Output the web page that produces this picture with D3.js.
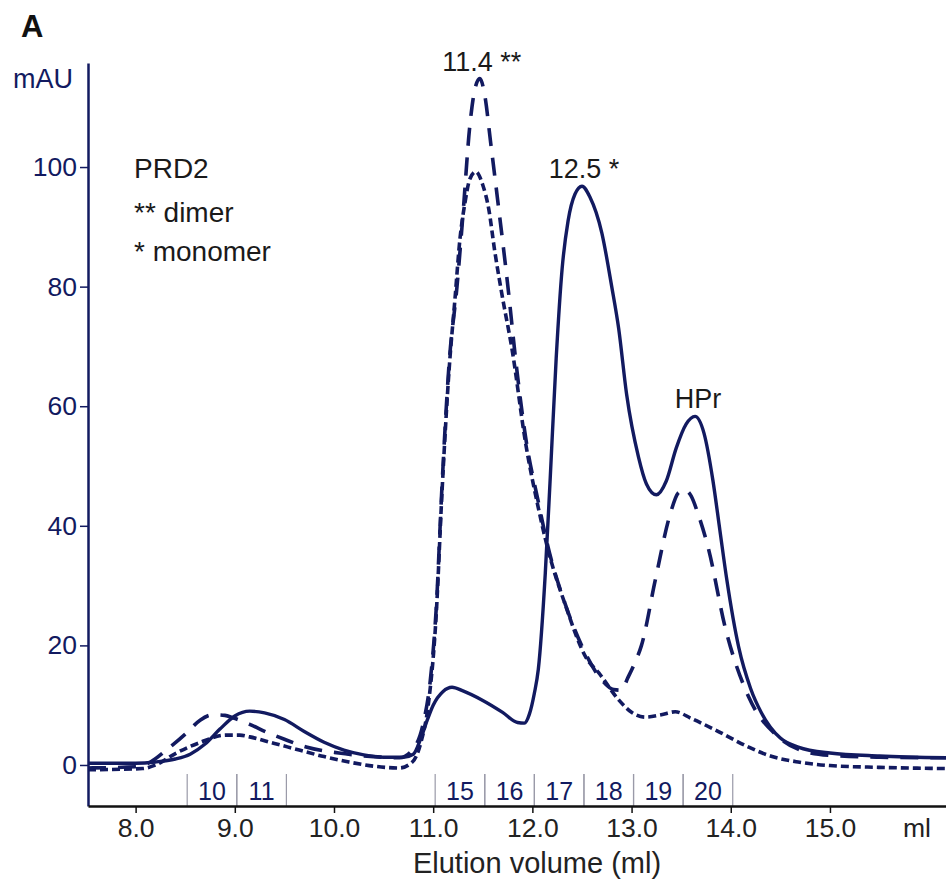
<!DOCTYPE html>
<html>
<head>
<meta charset="utf-8">
<script src="https://cdn.jsdelivr.net/npm/d3@7"></script>
<style>
  body { margin: 0; background: #fff; }
  svg { font-family: "Liberation Sans", Arial, sans-serif; }
</style>
</head>
<body>
<svg id="chart"></svg>
<script>
// elution volume (ml) and absorbance (mAU)
const solidVol = [7.52, 8.0, 8.2, 8.4, 8.55, 8.7, 8.85, 9.0, 9.15, 9.3, 9.5, 9.7, 9.9, 10.1, 10.3, 10.5, 10.7, 10.8, 10.87, 10.94, 11.0, 11.1, 11.19, 11.3, 11.5, 11.7, 11.85, 11.92, 11.97, 12.02, 12.06, 12.13, 12.18, 12.24, 12.3, 12.36, 12.43, 12.5, 12.58, 12.7, 12.8, 12.87, 12.95, 13.07, 13.15, 13.25, 13.35, 13.45, 13.55, 13.64, 13.73, 13.82, 13.89, 13.96, 14.08, 14.2, 14.31, 14.5, 14.68, 15.0, 15.5, 16.17]
const solidMau = [0.3, 0.3, 0.5, 1.0, 1.8, 3.5, 6.0, 8.2, 9.0, 8.7, 7.6, 5.6, 3.8, 2.5, 1.7, 1.3, 1.3, 1.8, 4.2, 7.5, 10, 12.3, 13.0, 12.4, 10.8, 8.8, 7.1, 7.0, 8.5, 12, 16, 32, 48, 68, 83, 91, 95.5, 96.8, 95, 89, 80, 73, 62, 51.5, 47, 45.2, 47.5, 53, 57, 58.3, 55.5, 47.6, 39.3, 31, 19.7, 12.8, 8.7, 4.5, 3.0, 2.0, 1.5, 1.2]

const dashVol = [7.52, 8.0, 8.15, 8.31, 8.51, 8.65, 8.78, 8.9, 8.98, 9.15, 9.32, 9.5, 9.72, 10.05, 10.4, 10.66, 10.79, 10.9, 10.97, 11.03, 11.09, 11.16, 11.24, 11.3, 11.37, 11.42, 11.47, 11.52, 11.58, 11.65, 11.76, 11.83, 11.93, 12.06, 12.15, 12.34, 12.54, 12.7, 12.82, 12.9, 12.96, 13.03, 13.1, 13.24, 13.39, 13.47, 13.53, 13.6, 13.67, 13.77, 13.95, 14.18, 14.48, 14.7, 15.0, 15.5, 16.17]
const dashMau = [-0.5, -0.3, 0.5, 2.5, 5.3, 7.5, 8.4, 8.3, 7.9, 6.8, 5.5, 4.3, 3.0, 2.0, 1.4, 1.2, 2.5, 7, 14, 26, 47, 67, 80, 92, 107, 113, 114.8, 112, 104, 94.5, 79, 68, 55, 44, 37, 26.5, 18.5, 14.2, 12.6, 12.5, 14.5, 17, 20, 31, 42, 45.5, 46, 45, 42, 36.5, 22.6, 11.4, 4.7, 2.5, 1.6, 1.3, 1.2]

const dotVol = [7.52, 8.07, 8.2, 8.41, 8.64, 8.91, 9.05, 9.15, 9.4, 9.65, 9.9, 10.15, 10.4, 10.66, 10.79, 10.88, 10.95, 11.03, 11.09, 11.16, 11.22, 11.27, 11.32, 11.37, 11.43, 11.5, 11.56, 11.62, 11.69, 11.8, 11.93, 12.06, 12.15, 12.34, 12.54, 12.67, 12.87, 13.0, 13.14, 13.3, 13.44, 13.6, 13.84, 14.18, 14.4, 14.68, 15.0, 15.5, 16.17]
const dotMau = [-0.8, -0.6, 0, 2, 3.7, 5, 5, 4.7, 3.6, 2.5, 1.4, 0.5, -0.2, -0.5, 0.5, 4, 10, 25, 46, 66, 78, 88, 94, 98, 99.2, 97, 93, 86, 79, 69, 54, 43, 36.5, 26.4, 18, 15.4, 10.9, 8.8, 8, 8.4, 8.9, 7.8, 5.9, 3.0, 1.5, 0.5, -0.1, -0.4, -0.6]

// fractions collected (boundaries in ml)
const fractionNames = ["10", "11", "15", "16", "17", "18", "19", "20"]
const fractionStart = [8.52, 9.02, 11.02, 11.52, 12.02, 12.52, 13.02, 13.52]
const fractionEnd = [9.02, 9.52, 11.52, 12.02, 12.52, 13.02, 13.52, 14.02]

const xTicks = [8, 9, 10, 11, 12, 13, 14, 15]
const yTicks = [0, 20, 40, 60, 80, 100]

const peakNames = ["11.4 **", "12.5 *", "HPr"]
const peakVol = [11.47, 12.5, 13.64]
const peakMau = [114.8, 96.8, 58.3]

const legendLines = ["PRD2", "** dimer", "* monomer"]

const navy = "#121a60"
const W = 946, H = 886

let svg = d3.select("#chart").attr("width", W).attr("height", H)

let x = d3.scaleLinear().domain([7.52, 16.17]).range([88, 946])
let y = d3.scaleLinear().domain([-6.86, 117.4]).range([806, 63])

// fraction dividers and numbers
let frac = svg.append("g")
fractionNames.forEach((name, i) => {
    frac.append("line")
        .attr("x1", x(fractionStart[i])).attr("x2", x(fractionStart[i]))
        .attr("y1", 774).attr("y2", 806)
        .attr("stroke", "#9a9aa8").attr("stroke-width", 1.2)
    frac.append("line")
        .attr("x1", x(fractionEnd[i])).attr("x2", x(fractionEnd[i]))
        .attr("y1", 774).attr("y2", 806)
        .attr("stroke", "#9a9aa8").attr("stroke-width", 1.2)
    frac.append("text")
        .attr("x", x((fractionStart[i] + fractionEnd[i]) / 2))
        .attr("y", 800)
        .attr("text-anchor", "middle")
        .attr("font-size", 25)
        .attr("fill", navy)
        .text(name)
})

// curves
let line = d3.line()
    .x(d => x(d[0]))
    .y(d => y(d[1]))
    .curve(d3.curveMonotoneX)

function draw(vol, mau, dash, width) {
    svg.append("path")
        .datum(vol.map((v, i) => [v, mau[i]]))
        .attr("d", line)
        .attr("fill", "none")
        .attr("stroke", navy)
        .attr("stroke-width", width)
        .attr("stroke-dasharray", dash)
        .attr("stroke-linejoin", "round")
}
draw(dotVol, dotMau, "8,4", 3.6)
draw(dashVol, dashMau, "18,12", 3.6)
draw(solidVol, solidMau, null, 3.4)

// y axis
let yAxis = svg.append("g")
    .attr("transform", `translate(${x(7.52)},0)`)
    .call(d3.axisLeft(y).tickValues(yTicks).tickSize(8).tickSizeOuter(0).tickPadding(3))
yAxis.select(".domain").attr("stroke", navy).attr("stroke-width", 2.5)
yAxis.selectAll(".tick line").attr("stroke", navy).attr("stroke-width", 1.5)
yAxis.selectAll(".tick text")
    .attr("font-size", 26.5).attr("fill", navy)
    .attr("font-family", "Liberation Sans, Arial, sans-serif")

// x axis
let xAxis = svg.append("g")
    .attr("transform", `translate(0,${y(-6.86)})`)
    .call(d3.axisBottom(x).tickValues(xTicks).tickFormat(d3.format(".1f"))
        .tickSize(7).tickSizeOuter(0).tickPadding(5))
xAxis.select(".domain").attr("stroke", "#111").attr("stroke-width", 2.5)
xAxis.selectAll(".tick line").attr("stroke", "#111").attr("stroke-width", 1.5)
xAxis.selectAll(".tick text")
    .attr("font-size", 26.5).attr("fill", "#222")
    .attr("font-family", "Liberation Sans, Arial, sans-serif")

svg.append("text")
    .attr("x", 917).attr("y", 837)
    .attr("text-anchor", "middle")
    .attr("font-size", 26.5).attr("fill", "#222")
    .text("ml")

svg.append("text")
    .attr("x", 537).attr("y", 873)
    .attr("text-anchor", "middle")
    .attr("font-size", 29).attr("fill", "#222")
    .text("Elution volume (ml)")

svg.append("text")
    .attr("x", 73).attr("y", 88)
    .attr("text-anchor", "end")
    .attr("font-size", 27).attr("fill", navy)
    .text("mAU")

svg.append("text")
    .attr("x", 21).attr("y", 37)
    .attr("font-size", 31).attr("font-weight", "bold").attr("fill", "#111")
    .text("A")

// legend text
svg.append("g").selectAll("text")
    .data(legendLines)
    .join("text")
    .attr("x", 134)
    .attr("y", (d, i) => [178, 222, 261][i])
    .attr("font-size", 28).attr("fill", "#1a1a1a")
    .text(d => d)

// peak labels
svg.append("g").selectAll("text")
    .data(peakNames)
    .join("text")
    .attr("x", (d, i) => x(peakVol[i]) + (i == 0 ? 2 : i == 1 ? 2 : 3))
    .attr("y", (d, i) => y(peakMau[i]) - 8)
    .attr("text-anchor", "middle")
    .attr("font-size", 27).attr("fill", "#1a1a1a")
    .text(d => d)
</script>
</body>
</html>
